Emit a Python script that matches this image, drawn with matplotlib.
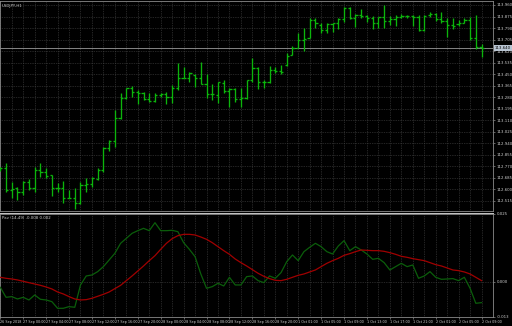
import matplotlib
matplotlib.use("Agg")
import matplotlib.pyplot as plt
import matplotlib.transforms as mtransforms
from matplotlib.lines import Line2D

# ---------------- data ----------------
symbol_title = "USDJPY,H1"
indicator_title = "Pav (14,49) -0.008 0.002"

opens = [112.745, 112.753, 112.593, 112.605, 112.580, 112.654, 112.605, 112.740, 112.728, 112.705,
         112.605, 112.610, 112.536, 112.536, 112.494, 112.630, 112.634, 112.674, 112.740, 112.901,
         112.955, 113.127, 113.275, 113.344, 113.314, 113.307, 113.265, 113.250, 113.295, 113.300,
         113.282, 113.344, 113.423, 113.423, 113.443, 113.418, 113.374, 113.300, 113.295, 113.381,
         113.324, 113.339, 113.265, 113.275, 113.406, 113.492, 113.393, 113.393, 113.480, 113.475,
         113.517, 113.590, 113.640, 113.701, 113.714, 113.849, 113.812, 113.775, 113.820, 113.825,
         113.854, 113.935, 113.861, 113.886, 113.879, 113.861, 113.825, 113.869, 113.844, 113.854,
         113.874, 113.879, 113.879, 113.874, 113.775, 113.886, 113.893, 113.854, 113.844, 113.812,
         113.820, 113.829, 113.849, 113.714, 113.652]
highs = [112.760, 112.790, 112.654, 112.617, 112.659, 112.674, 112.765, 112.790, 112.753, 112.705,
         112.642, 112.659, 112.593, 112.605, 112.649, 112.679, 112.691, 112.753, 112.913, 112.962,
         113.184, 113.307, 113.349, 113.364, 113.332, 113.319, 113.307, 113.307, 113.307, 113.314,
         113.369, 113.529, 113.504, 113.462, 113.448, 113.541, 113.448, 113.374, 113.393, 113.406,
         113.344, 113.344, 113.344, 113.406, 113.566, 113.504, 113.406, 113.509, 113.504, 113.517,
         113.603, 113.657, 113.751, 113.788, 113.861, 113.861, 113.829, 113.825, 113.829, 113.861,
         113.948, 113.948, 113.893, 113.928, 113.886, 113.879, 113.874, 113.960, 113.879, 113.886,
         113.893, 113.886, 113.886, 113.886, 113.886, 113.911, 113.903, 113.911, 113.861, 113.861,
         113.849, 113.861, 113.874, 113.886, 113.672]
lows = [112.735, 112.580, 112.531, 112.519, 112.556, 112.593, 112.575, 112.691, 112.679, 112.551,
        112.580, 112.494, 112.531, 112.452, 112.488, 112.580, 112.617, 112.666, 112.728, 112.883,
        112.913, 113.117, 113.265, 113.282, 113.226, 113.258, 113.241, 113.245, 113.282, 113.226,
        113.233, 113.332, 113.418, 113.393, 113.356, 113.374, 113.270, 113.258, 113.233, 113.307,
        113.209, 113.245, 113.209, 113.262, 113.393, 113.337, 113.344, 113.386, 113.455, 113.450,
        113.509, 113.590, 113.640, 113.622, 113.714, 113.788, 113.751, 113.755, 113.763, 113.780,
        113.837, 113.854, 113.800, 113.861, 113.837, 113.780, 113.788, 113.788, 113.812, 113.805,
        113.861, 113.861, 113.805, 113.770, 113.770, 113.874, 113.844, 113.829, 113.721, 113.780,
        113.805, 113.825, 113.701, 113.632, 113.578]
closes = [112.753, 112.593, 112.598, 112.580, 112.649, 112.610, 112.740, 112.728, 112.699, 112.605,
          112.610, 112.536, 112.536, 112.494, 112.630, 112.634, 112.679, 112.740, 112.901, 112.955,
          113.122, 113.275, 113.344, 113.314, 113.307, 113.265, 113.250, 113.295, 113.300, 113.282,
          113.344, 113.423, 113.423, 113.455, 113.418, 113.374, 113.300, 113.300, 113.393, 113.324,
          113.339, 113.265, 113.270, 113.406, 113.492, 113.393, 113.393, 113.480, 113.475, 113.467,
          113.583, 113.640, 113.701, 113.706, 113.849, 113.825, 113.775, 113.820, 113.825, 113.854,
          113.935, 113.861, 113.886, 113.879, 113.861, 113.825, 113.869, 113.844, 113.854, 113.874,
          113.879, 113.879, 113.874, 113.775, 113.879, 113.893, 113.854, 113.844, 113.812, 113.805,
          113.829, 113.849, 113.714, 113.652, 113.640]

fast_line = [-0.00196, -0.00564, -0.00539, -0.00625, -0.00564, -0.00662, -0.00478, -0.00637, -0.00662, -0.00723,
             -0.00968, -0.00968, -0.00907, -0.00931, -0.00110, 0.00221, 0.00257, 0.00380, 0.00564, 0.00809,
             0.01054, 0.01422, 0.01605, 0.01789, 0.01887, 0.01973, 0.01887, 0.02181, 0.01887, 0.01887,
             0.01900, 0.01850, 0.01446, 0.01201, 0.00931, 0.00294, -0.00233, -0.00172, -0.00049, -0.00147,
             0.00172, -0.00110, -0.00110, 0.00196, 0.00221, 0.00049, -0.00025, 0.00221, 0.00135, 0.00343,
             0.00748, 0.00993, 0.00784, 0.01115, 0.01275, 0.01422, 0.01299, 0.01115, 0.01029, 0.01324,
             0.01520, 0.01152, 0.01299, 0.01176, 0.01029, 0.00833, 0.00870, 0.00711, 0.00441, 0.00564,
             0.00686, 0.00564, 0.00625, 0.00135, 0.00221, 0.00380, 0.00172, 0.00098, 0.00110, 0.00123,
             0.00049, 0.00172, -0.00233, -0.00784, -0.00760]
slow_line = [0.00172, 0.00135, 0.00110, 0.00074, 0.00025, -0.00025, -0.00074, -0.00123, -0.00184, -0.00257,
             -0.00368, -0.00441, -0.00539, -0.00625, -0.00662, -0.00650, -0.00600, -0.00527, -0.00453, -0.00368,
             -0.00245, -0.00123, 0.00049, 0.00221, 0.00404, 0.00588, 0.00784, 0.00968, 0.01201, 0.01422,
             0.01593, 0.01703, 0.01752, 0.01752, 0.01728, 0.01654, 0.01569, 0.01446, 0.01299, 0.01152,
             0.01017, 0.00846, 0.00711, 0.00588, 0.00453, 0.00319, 0.00208, 0.00123, 0.00061, 0.00049,
             0.00098, 0.00172, 0.00245, 0.00294, 0.00368, 0.00441, 0.00564, 0.00686, 0.00784, 0.00870,
             0.00980, 0.01042, 0.01115, 0.01176, 0.01164, 0.01152, 0.01152, 0.01127, 0.01078, 0.01017,
             0.00944, 0.00907, 0.00858, 0.00821, 0.00784, 0.00711, 0.00637, 0.00588, 0.00515, 0.00441,
             0.00417, 0.00368, 0.00294, 0.00172, 0.00049]

price_ticks = [113.960, 113.875, 113.790, 113.705, 113.620, 113.535, 113.450, 113.365, 113.280,
               113.195, 113.110, 113.025, 112.940, 112.855, 112.770, 112.685, 112.600, 112.515]
ind_ticks = [0.025, 0.000, -0.0127]
ind_tick_labels = ["0.025", "0.000", "-0.013"]

time_labels = ["26 Sep 2018", "27 Sep 00:00", "27 Sep 04:00", "27 Sep 08:00", "27 Sep 12:00",
               "27 Sep 16:00", "27 Sep 20:00", "28 Sep 00:00", "28 Sep 04:00", "28 Sep 08:00",
               "28 Sep 12:00", "28 Sep 16:00", "28 Sep 20:00", "1 Oct 01:00", "1 Oct 05:00",
               "1 Oct 09:00", "1 Oct 13:00", "1 Oct 17:00", "1 Oct 21:00", "2 Oct 01:00",
               "2 Oct 05:00", "2 Oct 09:00"]
label_every = 4

# ---------------- style ----------------
BG = "#000000"
BAR = "#0cb50c"
FAST = "#0b5e0b"
SLOW = "#a00000"
GRID = "#4a4a4a"
FRAME = "#8a8a8a"
TXT = "#cfcfcf"
FS = 2.75
FS_T = 2.45

W, H = 512, 326
fig = plt.figure(figsize=(W / 100, H / 100), dpi=100, facecolor=BG)

def rect(left, top, right, bottom):
    return [left / W, 1 - bottom / H, (right - left) / W, (bottom - top) / H]

ax1 = fig.add_axes(rect(0, 1, 493, 211), facecolor=BG)
ax2 = fig.add_axes(rect(0, 214, 493, 316.5), facecolor=BG)

n = len(closes)
xs = list(range(n))
xlim = (-0.05, 86.0)

for ax in (ax1, ax2):
    ax.set_xlim(*xlim)
    for s in ax.spines.values():
        s.set_color(FRAME)
        s.set_linewidth(0.6)
    ax.set_xticks(range(0, n, label_every))
    ax.set_xticks(range(0, 86, 2), minor=True)
    ax.grid(True, which="both", axis="x", color=GRID, linestyle=(0, (1, 1.5)), linewidth=0.5)
    ax.set_axisbelow(True)
    ax.yaxis.tick_right()
    ax.tick_params(axis="y", colors=FRAME, labelcolor=TXT, labelsize=FS, length=1.5,
                   width=0.5, pad=1.2)
    ax.tick_params(axis="x", which="minor", length=0)

# price bars
tick_w = 0.38
ax1.vlines(xs, lows, highs, color=BAR, linewidth=0.95, zorder=3)
ax1.hlines(opens, [x - tick_w for x in xs], xs, color=BAR, linewidth=0.95, zorder=3)
ax1.hlines(closes, xs, [x + tick_w for x in xs], color=BAR, linewidth=0.95, zorder=3)

step = price_ticks[0] - price_ticks[1]
ax1.set_ylim(price_ticks[0] - step * (211 - 5) / 11.5, price_ticks[0] + step * 4 / 11.5)
ax1.set_yticks(price_ticks)
ax1.set_yticklabels([f"{p:.3f}" for p in price_ticks])
ax1.grid(True, axis="y", color=GRID, linestyle=(0, (1, 1.5)), linewidth=0.5)
ax1.tick_params(axis="x", which="major", length=0, labelbottom=False)

# current price line and label
last = closes[-1]
ax1.axhline(last, color="#9a9a9a", linewidth=0.6, zorder=2)
trans = mtransforms.blended_transform_factory(ax1.transAxes, ax1.transData)
ax1.text(1.003, last, f"{last:.3f}", transform=trans, fontsize=FS, color="#000000",
         va="center", ha="left", zorder=10, clip_on=False,
         bbox=dict(facecolor="#b9c5d2", edgecolor="none", pad=0.7))

ax1.text(2 / 493, 1 - 3 / 210, symbol_title, transform=ax1.transAxes, fontsize=FS,
         color=TXT, va="top", ha="left")

# indicator window
ax2.plot(xs, fast_line, color=FAST, linewidth=0.9, zorder=3)
ax2.plot(xs, slow_line, color=SLOW, linewidth=0.9, zorder=3)
ax2.axhline(0.0, color=GRID, linestyle=(0, (1, 1.5)), linewidth=0.5, zorder=1)
ax2.set_ylim(-0.01268, 0.0250)
ax2.set_yticks(ind_ticks)
ax2.set_yticklabels(ind_tick_labels)
ax2.set_xticklabels(time_labels, ha="left")
ax2.tick_params(axis="x", which="major", colors=FRAME, labelcolor=TXT, labelsize=FS_T,
                length=1.5, width=0.5, pad=1.0)
ax2.text(2 / 493, 1 - 2 / 102.5, indicator_title, transform=ax2.transAxes, fontsize=FS,
         color=TXT, va="top", ha="left")

# separator between windows
fig.add_artist(Line2D([0, 493 / W], [1 - 212.5 / H] * 2, color="#c8c8c8", linewidth=0.7))

fig.savefig("out.png", dpi=100, facecolor=BG)
